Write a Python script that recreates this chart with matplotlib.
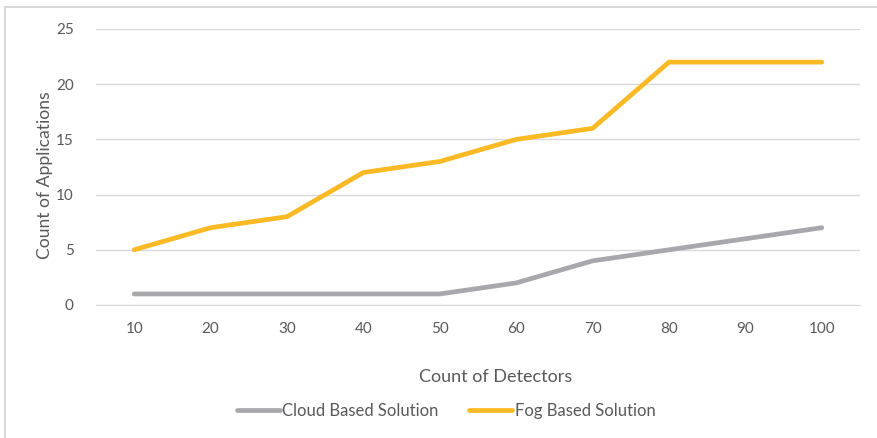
import matplotlib
matplotlib.use("Agg")
import matplotlib.pyplot as plt
from matplotlib.lines import Line2D

detectors = ["10", "20", "30", "40", "50", "60", "70", "80", "90", "100"]
cloud = [1, 1, 1, 1, 1, 2, 4, 5, 6, 7]
fog = [5, 7, 8, 12, 13, 15, 16, 22, 22, 22]

plt.rcParams["font.family"] = ["Lato", "DejaVu Sans"]
txt = "#595959"
W, H = 878, 438

fig = plt.figure(figsize=(W / 100, H / 100), dpi=100)
ax = fig.add_axes([96 / W, 1 - 305 / H, (860 - 96) / W, (305 - 29) / H])

x = range(len(detectors))
ax.plot(x, cloud, color="#A8A8AC", lw=3.4, solid_capstyle="round",
        solid_joinstyle="round", label="Cloud Based Solution", zorder=3)
ax.plot(x, fog, color="#FBB923", lw=3.4, solid_capstyle="round",
        solid_joinstyle="round", label="Fog Based Solution", zorder=3)

ax.set_xlim(-0.5, len(detectors) - 0.5)
ax.set_ylim(0, 25)
ax.set_yticks(range(0, 26, 5))
ax.set_xticks(list(x))
ax.set_xticklabels(detectors)
ax.grid(axis="y", color="#D9D9D9", lw=1)
for s in ["top", "right", "left"]:
    ax.spines[s].set_visible(False)
ax.spines["bottom"].set_color("#D9D9D9")
ax.tick_params(length=0, colors=txt, labelsize=11)
ax.tick_params(axis="x", pad=12)
ax.tick_params(axis="y", pad=16)

fig.text(496 / W, 1 - 377 / H, "Count of Detectors", ha="center", va="center",
         fontsize=13, color=txt)
fig.text(45 / W, 1 - 175 / H, "Count of Applications", ha="center", va="center",
         rotation=90, fontsize=12.6, color=txt)

fig.legend(loc="center", bbox_to_anchor=(446 / W, 1 - 411 / H), ncol=2,
           frameon=False, fontsize=12, labelcolor=txt, handlelength=2.6,
           handletextpad=0.15, columnspacing=1.8)

# chart frame (right/bottom edges fall outside the image)
fig.add_artist(Line2D([5 / W, 5 / W], [0, 1 - 7 / H], color="#D9D9D9", lw=1.5,
                      transform=fig.transFigure))
fig.add_artist(Line2D([5 / W, 1], [1 - 7 / H, 1 - 7 / H], color="#D9D9D9", lw=1.5,
                      transform=fig.transFigure))

fig.savefig("out.png", dpi=100)
